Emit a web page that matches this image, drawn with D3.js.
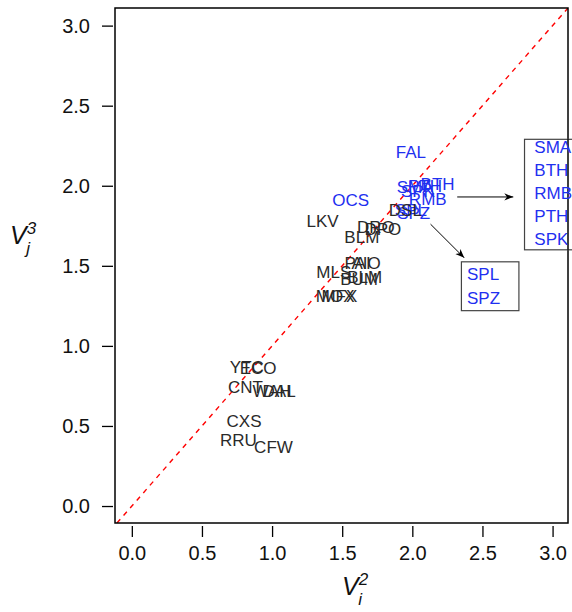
<!DOCTYPE html>
<meta charset="utf-8">
<style>
body { margin: 0; background: #fff; }
text { font-family: "Liberation Sans", Arial, sans-serif; }
</style>
<body>
<script src="https://cdn.jsdelivr.net/npm/d3@7"></script>
<script>

// point labels
var labels = ["FAL","OCS","SMA","SPK","PTH","BTH","RMB","SPL","SPZ",
  "LKV","BLM","DRO","DPO","DSL","PAI","AIO","MLS","BUM","BLM","MOX","MFX",
  "YTC","ECO","CNT","WAH","DAL","CXS","RRU","CFW"];
var xVals = [1.99,1.56,2.02,2.04,2.09,2.18,2.11,1.99,2.01,
  1.36,1.64,1.74,1.79,1.95,1.61,1.67,1.44,1.62,1.66,1.45,1.48,
  0.82,0.90,0.81,1.00,1.05,0.80,0.76,1.01];
var yVals = [2.21,1.91,1.99,1.97,2.00,2.01,1.92,1.85,1.83,
  1.78,1.68,1.74,1.73,1.85,1.52,1.52,1.46,1.42,1.43,1.31,1.31,
  0.87,0.86,0.74,0.72,0.72,0.53,0.41,0.37];
var groups = ["b","b","b","b","b","b","b","b","b",
  "k","k","k","k","k","k","k","k","k","k","k","k",
  "k","k","k","k","k","k","k","k"];

var ticks = [0, 0.5, 1, 1.5, 2, 2.5, 3];
var boxRight = ["SMA","BTH","RMB","PTH","SPK"];
var boxLow = ["SPL","SPZ"];

var W = 572, H = 612;
var svg = d3.select("body").append("svg").attr("width", W).attr("height", H);

var x = d3.scaleLinear().domain([-0.12, 3.11]).range([115, 568]);
var y = d3.scaleLinear().domain([-0.106, 3.11]).range([523, 8]);

var colour = {b: "#1f30f0", k: "#2a2a2a"};

svg.append("defs").append("marker")
    .attr("id", "arr")
    .attr("viewBox", "0 0 10 10")
    .attr("refX", 10).attr("refY", 5)
    .attr("markerWidth", 9).attr("markerHeight", 9)
    .attr("orient", "auto")
  .append("path").attr("d", "M0,1 L10,5 L0,9 L3,5 Z").attr("fill", "#000");

// diagonal y = x, clipped to the box
svg.append("clipPath").attr("id", "clip").append("rect")
    .attr("x", 115).attr("y", 8).attr("width", 453).attr("height", 515);
svg.append("line")
    .attr("clip-path", "url(#clip)")
    .attr("x1", x(-0.2)).attr("y1", y(-0.2))
    .attr("x2", x(3.2)).attr("y2", y(3.2))
    .attr("stroke", "#f00").attr("stroke-width", 1.4)
    .attr("stroke-dasharray", "5,5");

// axes
var yAxis = d3.axisLeft(y).tickValues(ticks).tickFormat(d3.format(".1f")).tickSize(11).tickPadding(12);
var xAxis = d3.axisBottom(x).tickValues(ticks).tickFormat(d3.format(".1f")).tickSize(11).tickPadding(9);

var gy = svg.append("g").attr("transform", "translate(113,0)").call(yAxis);
var gx = svg.append("g").attr("transform", "translate(0,526)").call(xAxis);
[gx, gy].forEach(function(g) {
  g.select(".domain").remove();
  g.selectAll("line").attr("stroke", "#000").attr("stroke-width", 1.3);
  g.selectAll("text").attr("font-size", 20).attr("fill", "#111")
    .style("font-family", "'Liberation Sans', Arial, sans-serif");
});

svg.append("rect")
    .attr("x", 115).attr("y", 8).attr("width", 453).attr("height", 515)
    .attr("fill", "none").attr("stroke", "#000").attr("stroke-width", 1.5);

// point labels
svg.selectAll(".lab").data(labels).enter().append("text")
    .attr("class", "lab")
    .attr("x", function(d, i) { return x(xVals[i]); })
    .attr("y", function(d, i) { return y(yVals[i]); })
    .attr("dy", "0.35em")
    .attr("text-anchor", "middle")
    .attr("font-size", 17)
    .attr("fill", function(d, i) { return colour[groups[i]]; })
    .text(function(d) { return d; });

// arrows
svg.append("line")
    .attr("x1", x(2.32)).attr("y1", y(1.93)).attr("x2", x(2.72)).attr("y2", y(1.93))
    .attr("stroke", "#000").attr("stroke-width", 1).attr("marker-end", "url(#arr)");
svg.append("line")
    .attr("x1", x(2.13)).attr("y1", y(1.76)).attr("x2", x(2.37)).attr("y2", y(1.55))
    .attr("stroke", "#000").attr("stroke-width", 1).attr("marker-end", "url(#arr)");

// annotation boxes
svg.append("rect")
    .attr("x", x(2.8)).attr("y", y(2.29)).attr("width", x(3.15) - x(2.8)).attr("height", y(1.6) - y(2.29))
    .attr("fill", "#fff").attr("stroke", "#444").attr("stroke-width", 1.2);
svg.append("line")
    .attr("x1", 568).attr("x2", 568).attr("y1", y(2.29)).attr("y2", y(1.6))
    .attr("stroke", "#000").attr("stroke-width", 1.5);
svg.selectAll(".br").data(boxRight).enter().append("text")
    .attr("x", x(2.87))
    .attr("y", function(d, i) { return y(2.24) + i * 23; })
    .attr("dy", "0.35em")
    .attr("font-size", 17).attr("fill", colour.b)
    .text(function(d) { return d; });

svg.append("rect")
    .attr("x", x(2.35)).attr("y", y(1.525)).attr("width", x(2.76) - x(2.35)).attr("height", y(1.22) - y(1.525))
    .attr("fill", "#fff").attr("stroke", "#444").attr("stroke-width", 1.2);
svg.selectAll(".bl").data(boxLow).enter().append("text")
    .attr("x", x(2.39))
    .attr("y", function(d, i) { return y(1.45) + i * 24; })
    .attr("dy", "0.35em")
    .attr("font-size", 17).attr("fill", colour.b)
    .text(function(d) { return d; });

// axis titles
var xt = svg.append("text").attr("x", 342).attr("y", 595).attr("font-size", 25).attr("font-style", "italic").attr("fill", "#111");
xt.append("tspan").text("V");
xt.append("tspan").attr("dx", 0).attr("dy", -10).attr("font-size", 17).text("2");
xt.append("tspan").attr("dx", -10).attr("dy", 20).attr("font-size", 17).text("i");

var yt = svg.append("text").attr("x", 10).attr("y", 244).attr("font-size", 25).attr("font-style", "italic").attr("fill", "#111");
yt.append("tspan").text("V");
yt.append("tspan").attr("dx", 0).attr("dy", -10).attr("font-size", 17).text("3");
yt.append("tspan").attr("dx", -10).attr("dy", 20).attr("font-size", 17).text("j");

</script>
</body>
